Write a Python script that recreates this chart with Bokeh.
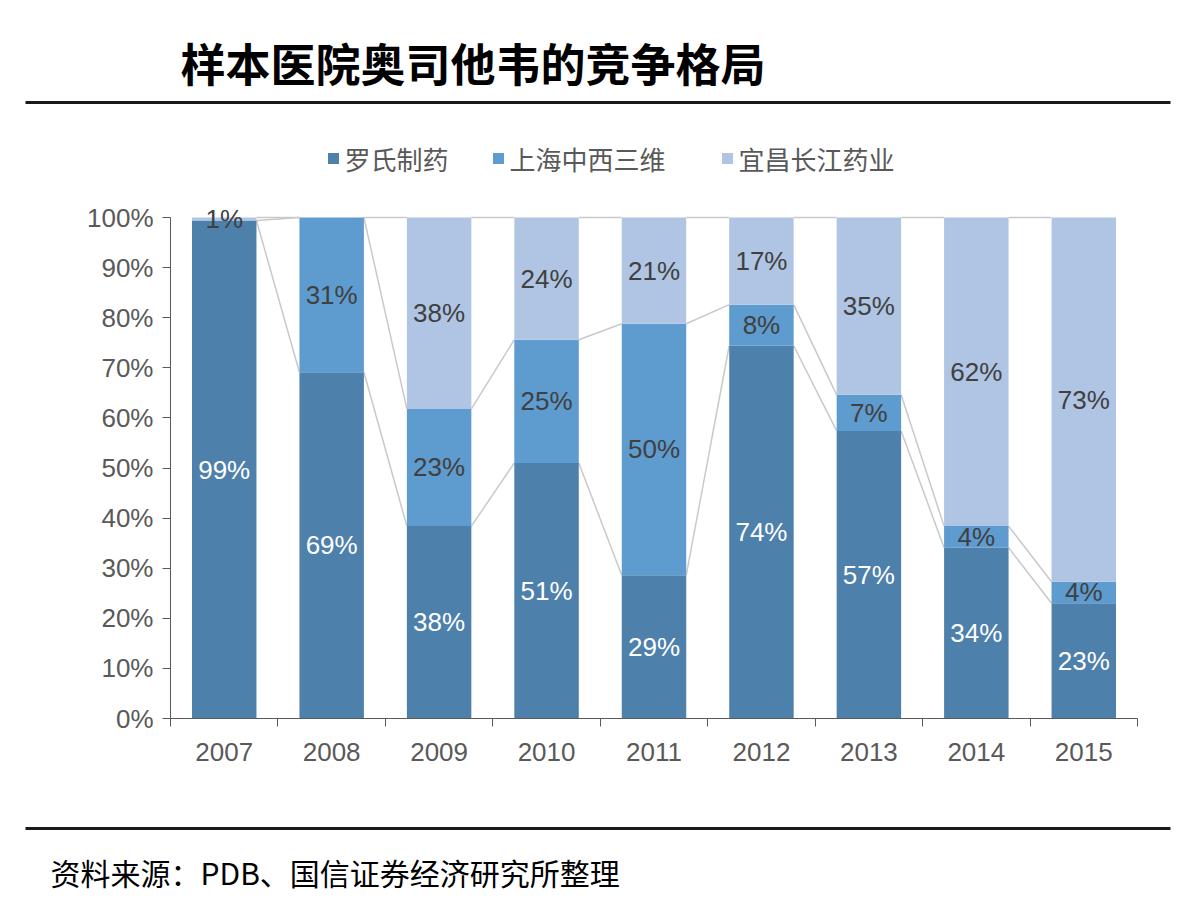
from bokeh.plotting import figure
from bokeh.models import Range1d, FixedTicker, ColumnDataSource
from bokeh.core.properties import value
from bokeh.embed import file_html
from bokeh.resources import INLINE

# ---------------- data ----------------
years = ["2007", "2008", "2009", "2010", "2011", "2012", "2013", "2014", "2015"]
roche = [99.4, 69.1, 38.4, 51.0, 28.6, 74.4, 57.4, 34.1, 23.0]      # 罗氏制药
shanghai = [0.0, 30.9, 23.4, 24.6, 50.2, 8.2, 7.2, 4.3, 4.3]       # 上海中西三维
yichang = [0.6, 0.0, 38.2, 24.4, 21.2, 17.4, 35.4, 61.6, 72.7]     # 宜昌长江药业
series_names = ["罗氏制药", "上海中西三维", "宜昌长江药业"]
y_ticks = [0, 10, 20, 30, 40, 50, 60, 70, 80, 90, 100]
title_text = "样本医院奥司他韦的竞争格局"
source_text = "资料来源：PDB、国信证券经济研究所整理"

colors = ["#4E80AC", "#5E9BCF", "#AFC5E3"]
label_colors = ["#FFFFFF", "#404040", "#404040"]
CJK = "Noto Sans CJK SC"
LAT = "Liberation Sans"

W, H = 1200, 922
n = len(years)
xs = list(range(n))

# page layout (pixels) of the plotting area
PL, PR, PT, PB = 170, 1137, 217, 718
CW = (PR - PL) / n
PPU = (PB - PT) / 100.0


def X(px):
    return (px - PL) / CW - 0.5


def Y(py):
    return (PB - py) / PPU


p = figure(width=W, height=H, x_range=Range1d(X(0), X(W)), y_range=Range1d(Y(H), Y(0)),
           output_backend="svg", toolbar_location=None, title=None, min_border=0)
p.outline_line_color = None
p.grid.visible = False
p.background_fill_color = "white"

# ---------------- header ----------------
p.text(x=[X(180)], y=[Y(62)], text=[title_text], text_font=value(CJK), text_font_style="bold",
       text_font_size="45px", text_color="#000000", text_baseline="middle", text_align="left")
p.segment(x0=[X(25)], y0=[Y(102)], x1=[X(1170)], y1=[Y(102)], line_color="#1A1A1A", line_width=3)
leg_px = [333, 498, 727]
p.scatter(x=[X(v) for v in leg_px], y=[Y(158)] * 3, marker="square", size=11,
          fill_color=colors, line_color=None)
p.text(x=[X(v + 11) for v in leg_px], y=[Y(158)] * 3, text=series_names, text_font=value(CJK),
       text_font_size="26px", text_color="#595959", text_baseline="middle", text_align="left")

# ---------------- bars ----------------
src = ColumnDataSource(dict(x=xs, roche=roche, shanghai=shanghai, yichang=yichang))
BW = 0.6
series = [roche, shanghai, yichang]
cum = []
run = [0.0] * n
for s in series:
    run = [a + b for a, b in zip(run, s)]
    cum.append(run)
sx0, sy0, sx1, sy1 = [], [], [], []
for c in cum:
    for i in range(n - 1):
        sx0.append(i + BW / 2)
        sy0.append(c[i])
        sx1.append(i + 1 - BW / 2)
        sy1.append(c[i + 1])
p.segment(x0=sx0, y0=sy0, x1=sx1, y1=sy1, line_color="#C9C9C9", line_width=1.5)

p.vbar_stack(["roche", "shanghai", "yichang"], x="x", width=BW, color=colors,
             line_color=None, source=src)

lx, ly, lt, lc = [], [], [], []
base = [0.0] * n
for k, s in enumerate(series):
    for i in range(n):
        if s[i] > 0:
            lx.append(i)
            ly.append(base[i] + s[i] / 2)
            lt.append(f"{int(s[i] + 0.5)}%")
            lc.append(label_colors[k])
    base = [a + b for a, b in zip(base, s)]
p.text(x=lx, y=ly, text=lt, text_color=lc, text_font=value(LAT), text_font_size="26px",
       text_align="center", text_baseline="middle")

# ---------------- axes ----------------
ya = p.yaxis[0]
ya.fixed_location = -0.5
ya.ticker = FixedTicker(ticks=y_ticks)
ya.bounds = (0, 100)
ya.major_label_overrides = {t: f"{t}%" for t in y_ticks}
ya.major_tick_out = 8
ya.major_tick_in = 0
ya.minor_tick_out = 0
ya.minor_tick_in = 0
ya.axis_line_color = "#595959"
ya.major_tick_line_color = "#595959"
ya.major_label_text_font = LAT
ya.major_label_text_font_size = "26px"
ya.major_label_text_color = "#595959"
ya.major_label_standoff = 9

xa = p.xaxis[0]
xa.fixed_location = 0
xa.bounds = (-0.5, n - 0.5)
xa.ticker = FixedTicker(ticks=xs, minor_ticks=[i - 0.5 for i in range(n + 1)])
xa.major_label_overrides = {i: years[i] for i in xs}
xa.major_tick_out = 0
xa.major_tick_in = 0
xa.minor_tick_out = 8
xa.minor_tick_in = 0
xa.minor_tick_line_color = "#595959"
xa.axis_line_color = "#595959"
xa.major_label_text_font = LAT
xa.major_label_text_font_size = "26px"
xa.major_label_text_color = "#595959"
xa.major_label_standoff = 16

# ---------------- footer ----------------
p.segment(x0=[X(25)], y0=[Y(828)], x1=[X(1170)], y1=[Y(828)], line_color="#1A1A1A", line_width=3)
p.text(x=[X(50)], y=[Y(871)], text=[source_text], text_font=value(CJK), text_font_size="30px",
       text_color="#000000", text_baseline="middle", text_align="left")

open("out.html", "w").write(file_html(p, INLINE))
